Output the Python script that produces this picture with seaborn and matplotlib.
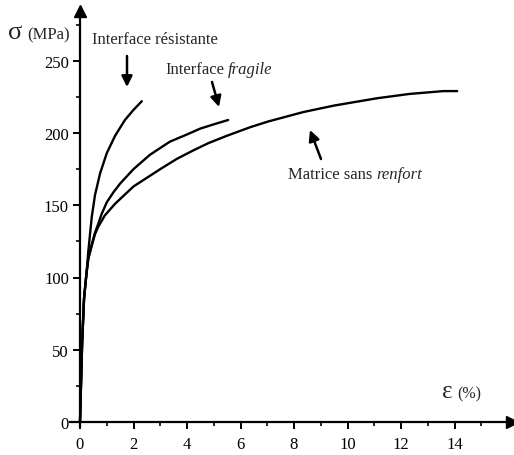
import numpy as np
import pandas as pd
import matplotlib
matplotlib.use("Agg")
import matplotlib.pyplot as plt
from matplotlib.patches import FancyArrowPatch
import seaborn as sns
from matplotlib.ticker import MultipleLocator

# Data (strain %, stress MPa)
res_eps = [0.0, 0.08, 0.15, 0.20, 0.25, 0.31, 0.44, 0.56, 0.75, 1.0, 1.31, 1.68, 2.0, 2.31]
res_sig = [0, 55, 85, 95, 104, 118, 142, 157, 172, 186, 198, 209, 216, 222]

fra_eps = [0.0, 0.08, 0.15, 0.20, 0.25, 0.31, 0.44, 0.56, 0.68, 0.81, 1.0, 1.25, 1.5, 2.0,
           2.62, 3.36, 4.0, 4.49, 5.0, 5.54]
fra_sig = [0, 55, 85, 95, 104, 113, 123, 131, 137, 144, 152, 159, 165, 175,
           185, 194, 199, 203, 206, 209]

mat_eps = [0.0, 0.08, 0.15, 0.20, 0.25, 0.31, 0.44, 0.56, 0.68, 0.93, 1.31, 1.74, 2.0, 2.5,
           3.0, 3.61, 4.24, 4.8, 5.48, 6.36, 7.04, 8.35, 9.5, 11.09, 12.3, 13.58, 14.1]
mat_sig = [0, 55, 85, 95, 104, 113, 122, 130, 135, 143, 151, 158.5, 163, 169,
           175, 182, 188, 193, 198, 204, 208, 214.5, 219, 224, 227, 229, 229]

x_ticks = [0, 2, 4, 6, 8, 10, 12, 14]
y_ticks = [0, 50, 100, 150, 200, 250]

df = pd.concat([
    pd.DataFrame({"eps": res_eps, "sig": res_sig, "curve": "Interface résistante"}),
    pd.DataFrame({"eps": fra_eps, "sig": fra_sig, "curve": "Interface fragile"}),
    pd.DataFrame({"eps": mat_eps, "sig": mat_sig, "curve": "Matrice sans renfort"}),
], ignore_index=True)

sns.set_style("white")
plt.rcParams["font.family"] = ["Liberation Serif", "DejaVu Serif"]

W, H = 514, 456
fig = plt.figure(figsize=(W / 100, H / 100), dpi=100)
XS, YS = 26.75, 1.445          # pixels per unit
ox, oy = 80, 423               # pixel of the origin
left_px, right_px, top_px, bot_px = 70, 512, 12, 427
ax = fig.add_axes([left_px / W, (H - bot_px) / H, (right_px - left_px) / W, (bot_px - top_px) / H])

sns.lineplot(data=df, x="eps", y="sig", units="curve", estimator=None, sort=False,
             color="black", linewidth=1.7, ax=ax, legend=False)

ax.set_xlim(-(ox - left_px) / XS, (right_px - ox) / XS)
ax.set_ylim(-(bot_px - oy) / YS, (oy - top_px) / YS)
ax.set_xlabel("")
ax.set_ylabel("")
for s in ["top", "right"]:
    ax.spines[s].set_visible(False)
ax.spines["left"].set_position(("data", 0))
ax.spines["bottom"].set_position(("data", 0))
for s in ["left", "bottom"]:
    ax.spines[s].set_linewidth(1.6)
    ax.spines[s].set_color("black")

ax.set_xticks(x_ticks)
ax.set_yticks(y_ticks)
ax.xaxis.set_minor_locator(MultipleLocator(1))
ax.yaxis.set_minor_locator(MultipleLocator(25))
ax.tick_params(axis="both", which="major", direction="out", length=5, width=1.4,
               colors="black", labelsize=12)
ax.tick_params(axis="both", which="minor", direction="out", length=3, width=1.2, colors="black")
ax.tick_params(axis="x", which="both", pad=5, bottom=True)
ax.tick_params(axis="y", which="both", pad=3, left=True)

# axis arrows
ax.plot(1, 0, ">", transform=ax.get_yaxis_transform(), color="black", markersize=8, clip_on=False)
ax.plot(0, 1, "^", transform=ax.get_xaxis_transform(), color="black", markersize=8, clip_on=False)

def fx(xp):
    return xp / W

def fy(yp):
    return 1 - yp / H

# axis labels
fig.text(fx(8), fy(33), "σ", fontsize=19, va="center", ha="left")
fig.text(fx(27), fy(35), "(MPa)", fontsize=12, va="center", ha="left")
fig.text(fx(442), fy(392), "ε", fontsize=18, va="center", ha="left")
fig.text(fx(457), fy(394), "(%)", fontsize=11.5, va="center", ha="left")

# annotations
fig.text(fx(92), fy(40), "Interface résistante", fontsize=12, va="center", ha="left")
t1 = fig.text(fx(165), fy(70), "Interface", fontsize=12, va="center", ha="left")
ax.annotate("fragile", xy=(1, 0.5), xycoords=t1, xytext=(3, 0), textcoords="offset points",
            fontsize=12, va="center", ha="left", style="italic")
t2 = fig.text(fx(288), fy(175), "Matrice sans", fontsize=12, va="center", ha="left")
ax.annotate("renfort", xy=(1, 0.5), xycoords=t2, xytext=(3, 0), textcoords="offset points",
            fontsize=12, va="center", ha="left", style="italic")

arr = dict(arrowstyle="-|>", color="black", lw=1.8, mutation_scale=16, shrinkA=0, shrinkB=0)
fig.add_artist(FancyArrowPatch((fx(127), fy(57)), (fx(127), fy(88)), **arr))
fig.add_artist(FancyArrowPatch((fx(212), fy(83)), (fx(219), fy(108)), **arr))
fig.add_artist(FancyArrowPatch((fx(321), fy(160)), (fx(310), fy(131)), **arr))

fig.savefig("out.png", dpi=100)
